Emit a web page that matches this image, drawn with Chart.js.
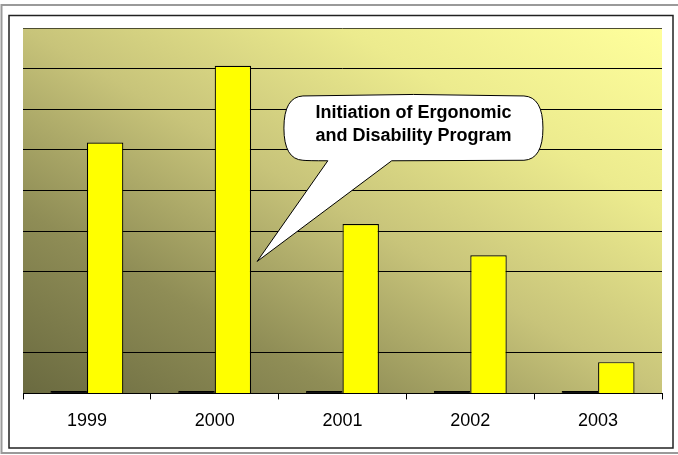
<!DOCTYPE html>
<html>
<head>
<meta charset="utf-8">
<script src="https://cdn.jsdelivr.net/npm/chart.js@4/dist/chart.umd.min.js"></script>
<style>
html,body{margin:0;padding:0;background:#fff;}
#wrap{position:relative;width:678px;height:455px;}
canvas{display:block;}
</style>
</head>
<body>
<div id="wrap"><canvas id="c" width="678" height="455"></canvas></div>
<script>
const categories = ['1999', '2000', '2001', '2002', '2003'];
const baselineSeries = [0.06, 0.06, 0.06, 0.06, 0.06];
const mainSeries = [6.18, 8.07, 4.17, 3.40, 0.77];
const calloutLines = ['Initiation of Ergonomic', 'and Disability Program'];
const calloutAnchorValue = 3.25;

const framePlugin = {
  id: 'frame',
  beforeDraw(chart) {
    const ctx = chart.ctx, a = chart.chartArea;
    ctx.save();
    ctx.strokeStyle = '#9a9a9a'; ctx.lineWidth = 2;
    ctx.strokeRect(1.5, 5, 680, 448);
    ctx.strokeStyle = '#222'; ctx.lineWidth = 1.5;
    ctx.strokeRect(9, 15.5, 664, 432.5);
    const w = a.right - a.left, h = a.bottom - a.top;
    const cx = (a.left + a.right) / 2, cy = (a.top + a.bottom) / 2;
    const n = Math.sqrt(w * w + h * h);
    const dx = h / n, dy = -w / n;
    const len = w * h / n;
    const g = ctx.createLinearGradient(cx - dx * len, cy - dy * len, cx + dx * len, cy + dy * len);
    g.addColorStop(0, '#6a6a40');
    g.addColorStop(0.25, '#8f8d56');
    g.addColorStop(0.5, '#c8c47a');
    g.addColorStop(0.75, '#eceb8e');
    g.addColorStop(1, '#ffff9c');
    ctx.fillStyle = g;
    ctx.fillRect(a.left, a.top, w, h);
    ctx.restore();
  },
  afterDatasetsDraw(chart) {
    const ctx = chart.ctx, a = chart.chartArea;
    const w = a.right - a.left, h = a.bottom - a.top;
    const L = a.left + 0.413 * w, R = a.left + 0.809 * w;
    const T = a.top + 0.186 * h, B = a.top + 0.362 * h;
    const b1 = a.left + 0.477 * w, b2 = a.left + 0.577 * w;
    const bar = chart.getDatasetMeta(1).data[1];
    const tipX = bar.x + bar.width / 2 + 6;
    const tipY = chart.scales.y.getPixelForValue(calloutAnchorValue);
    const r = 16, bul = 3;
    ctx.save();
    ctx.beginPath();
    ctx.moveTo(L + r, T);
    ctx.quadraticCurveTo((L + R) / 2, T - bul, R - r, T);
    ctx.quadraticCurveTo(R + bul, T + 1, R + bul, (T + B) / 2);
    ctx.quadraticCurveTo(R + bul, B - 1, R - r, B);
    ctx.lineTo(b2, B + 0.5);
    ctx.lineTo(tipX, tipY);
    ctx.lineTo(b1, B + 0.5);
    ctx.quadraticCurveTo(L + r + 4, B + 0.5, L + r, B);
    ctx.quadraticCurveTo(L - bul, B - 1, L - bul, (T + B) / 2);
    ctx.quadraticCurveTo(L - bul, T + 1, L + r, T);
    ctx.closePath();
    ctx.fillStyle = '#ffffff';
    ctx.fill();
    ctx.strokeStyle = '#000';
    ctx.lineWidth = 1;
    ctx.stroke();
    ctx.fillStyle = '#000';
    ctx.font = 'bold 18px "Liberation Sans", Arial, sans-serif';
    ctx.textAlign = 'center';
    ctx.textBaseline = 'middle';
    const cx = (L + R) / 2;
    ctx.fillText(calloutLines[0], cx, T + 17);
    ctx.fillText(calloutLines[1], cx, T + 40);
    ctx.restore();
  }
};

new Chart(document.getElementById('c'), {
  type: 'bar',
  data: {
    labels: categories,
    datasets: [
      { data: baselineSeries, backgroundColor: '#111', borderColor: '#000', borderWidth: 1,
        categoryPercentage: 0.57, barPercentage: 1.0 },
      { data: mainSeries, backgroundColor: '#ffff00', borderColor: '#000', borderWidth: 1.2,
        categoryPercentage: 0.57, barPercentage: 1.0 }
    ]
  },
  options: {
    responsive: false,
    animation: false,
    events: [],
    layout: { padding: { left: 23, right: 16, top: 28, bottom: 12 } },
    plugins: { legend: { display: false }, tooltip: { enabled: false } },
    scales: {
      x: {
        offset: true,
        grid: { display: true, drawOnChartArea: false, drawTicks: true, tickLength: 6, color: '#000', offset: true },
        border: { display: true, color: '#000', width: 1 },
        ticks: { color: '#000', padding: 11, font: { family: '"Liberation Sans", Arial, sans-serif', size: 18 } }
      },
      y: {
        min: 0, max: 9,
        afterFit(s) { s.width = 0; },
        ticks: { display: false, stepSize: 1 },
        border: { display: false },
        grid: {
          drawTicks: false,
          lineWidth: 1,
          color(ctx) {
            const v = ctx.tick && ctx.tick.value;
            if (v === 0 || v === 2) return 'rgba(0,0,0,0)';
            if (v === 9) return '#4d4d30';
            return '#000';
          }
        }
      }
    }
  },
  plugins: [framePlugin]
});
</script>
</body>
</html>
